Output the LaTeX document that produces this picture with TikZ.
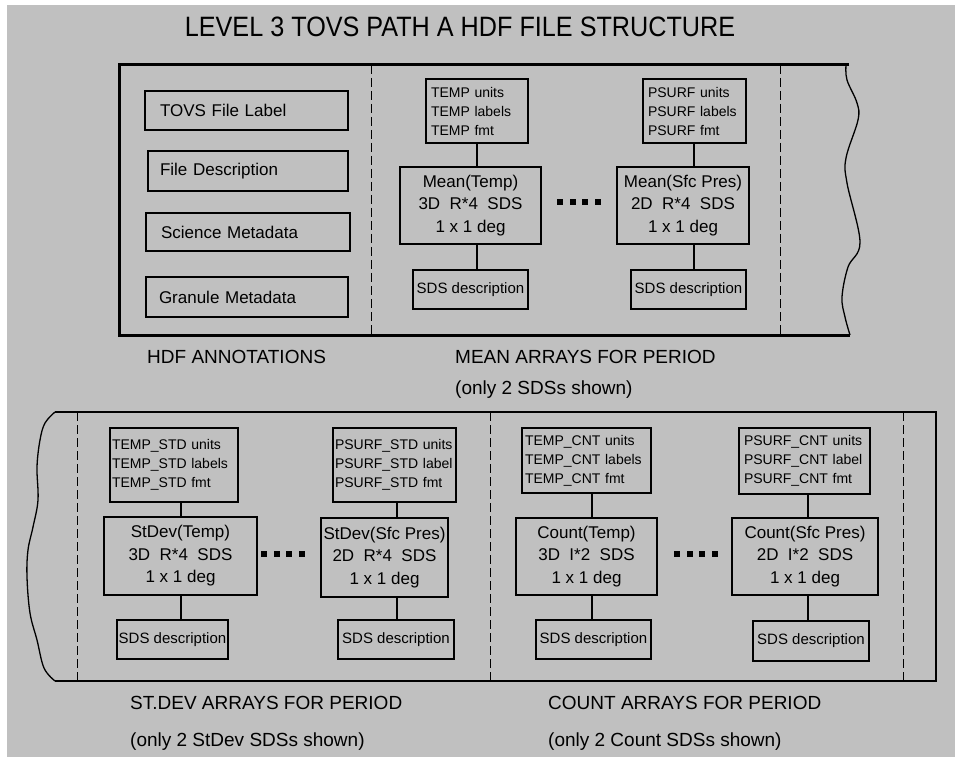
\documentclass[tikz,border=0pt]{standalone}
\usepackage{fontspec}
\setmainfont{Liberation Sans}
\newcommand{\fsz}[2]{\fontsize{#1}{#2}\selectfont}
\definecolor{bggray}{HTML}{C0C0C0}
\begin{document}
\begin{tikzpicture}[x=1pt,y=-1pt,
 box/.style={draw, line width=1.3pt, inner sep=0pt, rectangle, text=black},
 meta/.style={box, font=\fsz{17}{20}, align=left},
 attr/.style={box, font=\fsz{14}{19}, align=left},
 mainb/.style={box, font=\fsz{17}{22.5}, align=center},
 desc/.style={box, font=\fsz{15}{18}, align=center},
 lbl/.style={inner sep=0pt, font=\fsz{19}{22}, anchor=base west},
 conn/.style={line width=1.3pt},
 thickconn/.style={line width=2.5pt},
 divider/.style={line width=1pt, dash pattern=on 9pt off 4pt},
 wavy/.style={line width=1.3pt},
 outer/.style={line width=3pt},
 outerb/.style={line width=2pt},
]
\useasboundingbox (0,0) rectangle (955,759);
\fill[white] (0,0) rectangle (955,759);
\fill[bggray] (7,5) rectangle (955,757);

% title
\node[inner sep=0pt, anchor=base, xscale=0.9, font=\fsz{28}{32}] (title) at (460,37) {LEVEL 3 TOVS PATH A HDF FILE STRUCTURE};

% ---------- top box ----------
\draw[outer] (849,65) -- (119,65) -- (119,335) -- (850,335);
\draw[wavy] plot[smooth, tension=0.6] coordinates {(846,65) (847,80) (857,103) (858,120) (846,158) (847,183) (860,242) (848,267) (842,297) (845,317) (850,335)};
\draw[divider] (371,65) -- (371,335);
\draw[divider] (780,65) -- (780,335);

\node[meta, text width=173pt, inner xsep=15pt, minimum height=39pt] (lab1) at (246.5,110.5) {TOVS File Label};
\node[meta, text width=176pt, inner xsep=12pt, minimum height=40pt] (lab2) at (248,171) {File Description};
\node[meta, text width=174pt, inner xsep=15pt, minimum height=38pt] (lab3) at (248,232) {Science Metadata};
\node[meta, text width=176pt, inner xsep=13pt, minimum height=40pt] (lab4) at (247,297) {Granule Metadata};

% mean arrays
\node[attr, text width=92pt, inner xsep=5pt, minimum height=64pt] (ta1) at (477,111) {TEMP units\\TEMP labels\\TEMP fmt};
\node[mainb, minimum width=141pt, minimum height=77pt] (m1) at (470.5,205.5) {Mean(Temp)\\3D~~R*4~~SDS\\1 x 1 deg};
\node[desc, minimum width=115pt, minimum height=39pt] (d1) at (470.5,289.5) {SDS description};
\node[attr, text width=93pt, inner xsep=5pt, minimum height=64pt] (ta2) at (694.5,111) {PSURF units\\PSURF labels\\PSURF fmt};
\node[mainb, minimum width=132pt, minimum height=77pt] (m2) at (683,205.5) {Mean(Sfc Pres)\\2D~~R*4~~SDS\\1 x 1 deg};
\node[desc, minimum width=115pt, minimum height=39pt] (d2) at (688.5,289.5) {SDS description};

\coordinate (k1) at (477,0);
\coordinate (k2) at (694,0);
\draw[conn] (ta1.south -| k1) -- (m1.north -| k1);
\draw[conn] (m1.south -| k1) -- (d1.north -| k1);
\draw[conn] (ta2.south -| k2) -- (m2.north -| k2);
\draw[conn] (m2.south -| k2) -- (d2.north -| k2);
\foreach \dx in {0,12.5,25,37.5} \fill (557+\dx,199) rectangle ++(6,6);

\node[lbl] (hdflbl) at (147,363.5) {HDF ANNOTATIONS};
\node[lbl] (meanlbl) at (455,363.5) {MEAN ARRAYS FOR PERIOD};
\node[lbl] (meanlbl2) at (455,394) {(only 2 SDSs shown)};

% ---------- bottom box ----------
\draw[outerb] (55,412) -- (936,412) -- (936,681) -- (55,681);
\draw[wavy] plot[smooth, tension=0.6] coordinates {(55,412) (45,423) (40,440) (37,467) (38,500) (33,527) (28,550) (27,577) (30,613) (37,640) (44,668) (55,681)};
\draw[divider] (77,412) -- (77,681);
\draw[divider] (490,412) -- (490,681);
\draw[divider] (903,412) -- (903,681);

% stdev arrays
\node[attr, text width=124pt, inner xsep=2pt, minimum height=74pt] (sa1) at (174,465) {TEMP\_STD units\\TEMP\_STD labels\\TEMP\_STD fmt};
\node[mainb, minimum width=153pt, minimum height=78pt] (s1) at (180.5,556) {StDev(Temp)\\3D~~R*4~~SDS\\1 x 1 deg};
\node[desc, minimum width=111pt, minimum height=39pt] (sd1) at (172.5,639.5) {SDS description};
\node[attr, text width=119pt, inner xsep=2pt, minimum height=74pt] (sa2) at (394.5,465) {PSURF\_STD units\\PSURF\_STD label\\PSURF\_STD fmt};
\node[mainb, minimum width=127pt, minimum height=79pt] (s2) at (384.5,557.5) {StDev(Sfc Pres)\\2D~~R*4~~SDS\\1 x 1 deg};
\node[desc, minimum width=116pt, minimum height=39pt] (sd2) at (396,639.5) {SDS description};

\coordinate (k3) at (181,0);
\coordinate (k4) at (397,0);
\draw[conn] (sa1.south -| k3) -- (s1.north -| k3);
\draw[conn] (s1.south -| k3) -- (sd1.north -| k3);
\draw[conn] (sa2.south -| k4) -- (s2.north -| k4);
\draw[conn] (s2.south -| k4) -- (sd2.north -| k4);
\foreach \dx in {0,12.5,25,37.5} \fill (261+\dx,551) rectangle ++(6,6);

% count arrays
\node[attr, text width=123pt, inner xsep=3pt, minimum height=65pt] (ca1) at (586.5,460.5) {TEMP\_CNT units\\TEMP\_CNT labels\\TEMP\_CNT fmt};
\node[mainb, minimum width=141pt, minimum height=77pt] (c1) at (586.5,556.5) {Count(Temp)\\3D~~I*2~~SDS\\1 x 1 deg};
\node[desc, minimum width=115pt, minimum height=39pt] (cd1) at (593.5,639.5) {SDS description};
\node[attr, text width=121pt, inner xsep=5pt, minimum height=66pt] (ca2) at (804.5,461) {PSURF\_CNT units\\PSURF\_CNT label\\PSURF\_CNT fmt};
\node[mainb, minimum width=146pt, minimum height=77pt] (c2) at (805,556.5) {Count(Sfc Pres)\\2D~~I*2~~SDS\\1 x 1 deg};
\node[desc, minimum width=116pt, minimum height=40pt] (cd2) at (811,641) {SDS description};

\coordinate (k5) at (592,0);
\coordinate (k6) at (808,0);
\draw[thickconn] (ca1.south -| k5) -- (c1.north -| k5);
\draw[thickconn] (c1.south -| k5) -- (cd1.north -| k5);
\draw[thickconn] (ca2.south -| k6) -- (c2.north -| k6);
\draw[thickconn] (c2.south -| k6) -- (cd2.north -| k6);
\foreach \dx in {0,12.5,25,37.5} \fill (674+\dx,551) rectangle ++(6,6);

\node[lbl] (stdlbl) at (130,709.5) {ST.DEV ARRAYS FOR PERIOD};
\node[lbl] (stdlbl2) at (130,746) {(only 2 StDev SDSs shown)};
\node[lbl] (cntlbl) at (548,709.5) {COUNT ARRAYS FOR PERIOD};
\node[lbl] (cntlbl2) at (548,746) {(only 2 Count SDSs shown)};
\end{tikzpicture}
\end{document}
